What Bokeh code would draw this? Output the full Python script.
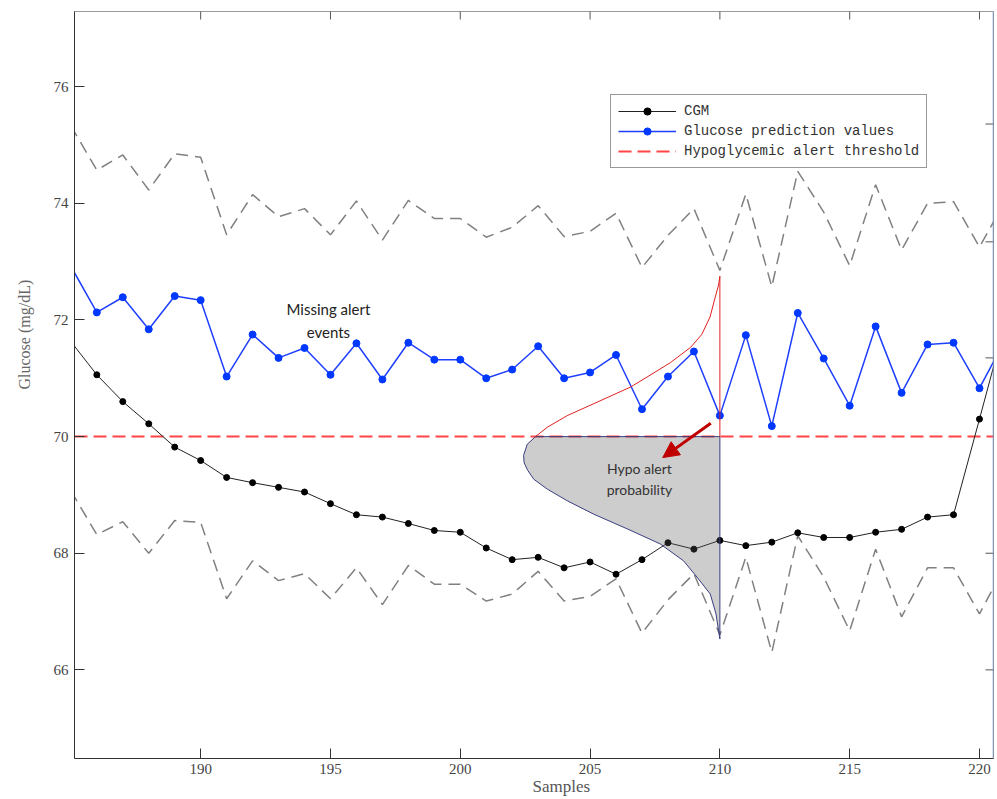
import math
from bokeh.plotting import figure
from bokeh.models import (FixedTicker, Range1d, Label, Arrow, NormalHead, Legend,
                          Title, Span)
from bokeh.embed import file_html
from bokeh.resources import INLINE

# ---------------- data ----------------
samples = list(range(185, 222))
cgm = [71.63, 71.06, 70.60, 70.22, 69.82, 69.59, 69.30, 69.21, 69.13, 69.05,
       68.85, 68.66, 68.62, 68.51, 68.39, 68.36, 68.09, 67.89, 67.93, 67.75,
       67.85, 67.64, 67.89, 68.18, 68.07, 68.22, 68.13, 68.19, 68.35, 68.27,
       68.27, 68.36, 68.41, 68.62, 68.66, 70.30, 71.96]
prediction = [72.92, 72.13, 72.39, 71.84, 72.41, 72.34, 71.03, 71.75, 71.35, 71.52,
              71.06, 71.60, 70.98, 71.61, 71.32, 71.32, 71.00, 71.15, 71.55, 71.00,
              71.10, 71.40, 70.47, 71.03, 71.46, 70.36, 71.74, 70.18, 72.12, 71.34,
              70.53, 71.89, 70.75, 71.58, 71.61, 70.83, 71.67]
upper_bound = [75.33, 74.57, 74.83, 74.23, 74.85, 74.79, 73.46, 74.15, 73.77, 73.91,
               73.46, 74.04, 73.37, 74.05, 73.74, 73.74, 73.42, 73.59, 73.96, 73.43,
               73.52, 73.83, 72.90, 73.45, 73.91, 72.85, 74.16, 72.57, 74.55, 73.85,
               72.93, 74.32, 73.20, 74.00, 74.03, 73.25, 74.05]
lower_bound = [69.07, 68.32, 68.54, 68.00, 68.56, 68.53, 67.22, 67.87, 67.53, 67.65,
               67.22, 67.75, 67.12, 67.79, 67.47, 67.47, 67.18, 67.30, 67.69, 67.18,
               67.26, 67.56, 66.63, 67.20, 67.65, 66.60, 67.93, 66.30, 68.30, 67.59,
               66.67, 68.07, 66.91, 67.75, 67.75, 66.96, 67.80]
threshold = 70.0

# prediction distribution drawn at sample 210
dist_upper_x = [202.90, 203.35, 204.12, 205.27, 206.56, 207.19, 208.10, 208.87,
                209.30, 209.62, 209.82, 209.95, 210.00]
dist_upper_y = [70.00, 70.16, 70.36, 70.59, 70.85, 71.02, 71.27, 71.53,
                71.75, 72.05, 72.39, 72.60, 72.75]
dist_lower_x = [202.90, 202.58, 202.44, 202.46, 202.60, 202.83, 203.35, 204.12,
                205.14, 206.42, 207.70, 208.60, 209.12, 209.63, 209.85, 210.00]
dist_lower_y = [70.00, 69.87, 69.68, 69.55, 69.42, 69.27, 69.10, 68.90,
                68.67, 68.42, 68.16, 67.87, 67.59, 67.30, 66.96, 66.53]

x_ticks = [190, 195, 200, 205, 210, 215, 220]
y_ticks = [66, 68, 70, 72, 74, 76]
right_ticks = [66, 68, 71.35, 73.34, 75.36]
x_limits = (185.14, 220.54)
y_limits = (64.48, 77.29)

# ---------------- figure ----------------
p = figure(width=997, height=799,
           x_range=Range1d(*x_limits), y_range=Range1d(*y_limits),
           output_backend="svg", toolbar_location=None,
           min_border_left=73, min_border_right=4, min_border_top=11,
           min_border_bottom=41)
p.grid.visible = False
p.outline_line_color = "#9a9a9a"
p.outline_line_width = 1
p.background_fill_color = "white"

serif = "Liberation Serif"

xa = p.below[0]
xa.ticker = FixedTicker(ticks=x_ticks)
ya = p.left[0]
ya.ticker = FixedTicker(ticks=y_ticks)
for ax in (xa, ya):
    ax.minor_tick_line_color = None
    ax.major_tick_in = 10
    ax.major_tick_out = 0
    ax.axis_line_color = "#333333"
    ax.major_tick_line_color = "#333333"
    ax.major_label_text_font = serif
    ax.major_label_text_font_size = "15px"
    ax.major_label_text_color = "#444444"
xa.major_label_standoff = 5
ya.major_label_standoff = 6

# axis titles placed like the reference (off-centre)
p.add_layout(Title(text="Glucose (mg/dL)", align="left", offset=369,
                   vertical_align="top", standoff=31,
                   text_font=serif, text_font_size="16px",
                   text_font_style="normal", text_color="#666666"), "left")
p.add_layout(Title(text="Samples", align="left", offset=458,
                   vertical_align="top", standoff=0,
                   text_font=serif, text_font_size="17px",
                   text_font_style="normal", text_color="#555555"), "below")

# right frame edge and inward ticks on the top and right edges
p.add_layout(Span(location=x_limits[1], dimension="height",
                  line_color="#7090c8", line_width=1.5))
p.scatter(x_ticks, [y_limits[1]] * len(x_ticks), marker="dash", size=16,
          angle=math.pi / 2, line_color="#555555", line_width=1)
p.scatter([x_limits[1]] * len(right_ticks), right_ticks, marker="dash", size=16,
          line_color="#555555", line_width=1)

# ---------------- series ----------------
p.line(samples, upper_bound, line_color="#808080", line_width=1.5, line_dash="12 7")
p.line(samples, lower_bound, line_color="#808080", line_width=1.5, line_dash="12 7")

thr_line = p.line([x_limits[0], x_limits[1]], [threshold, threshold],
                  line_color="#ff4545", line_width=2, line_dash="13 6")

cgm_line = p.line(samples, cgm, line_color="#222222", line_width=1)
cgm_dots = p.scatter(samples, cgm, size=6, fill_color="black", line_color="black")

pred_line = p.line(samples, prediction, line_color="#1f3fff", line_width=1.5)
pred_dots = p.scatter(samples, prediction, size=7, fill_color="#0038ff",
                      line_color="#0038ff")

# distribution at sample 210
p.patch(dist_lower_x + [dist_lower_x[-1]], dist_lower_y + [threshold],
        fill_color="#5a5a5a", fill_alpha=0.3, line_color="#3a3f80", line_width=1)
p.line(dist_upper_x, dist_upper_y, line_color="#e02020", line_width=1)
p.line([dist_upper_x[-1], dist_upper_x[-1]], [threshold, dist_upper_y[-1]],
       line_color="#e02020", line_width=1)

# ---------------- annotations ----------------
p.add_layout(Label(x=194.92, y=71.99, text="Missing alert\nevents",
                   text_align="center", text_baseline="middle",
                   text_font="Lato", text_font_size="15px", text_color="#222222",
                   text_line_height=1.3))
p.add_layout(Label(x=206.9, y=69.27, text="Hypo alert\nprobability",
                   text_align="center", text_baseline="middle",
                   text_font="Lato", text_font_size="14px", text_color="#333333",
                   text_line_height=1.25))
p.add_layout(Arrow(end=NormalHead(size=16, fill_color="#c00000", line_color="#c00000"),
                   x_start=209.65, y_start=70.23, x_end=207.8, y_end=69.64,
                   line_color="#c00000", line_width=3))

legend = Legend(items=[("CGM", [cgm_line, cgm_dots]),
                       ("Glucose prediction values", [pred_line, pred_dots]),
                       ("Hypoglycemic alert threshold", [thr_line])],
                location=(536, 590), orientation="vertical",
                glyph_width=58, glyph_height=18, label_height=18,
                label_standoff=8, spacing=2, padding=7, margin=0,
                label_text_font="Liberation Mono", label_text_font_size="14px",
                label_text_color="#333333",
                border_line_color="#333333", border_line_width=1.2,
                background_fill_color="white", background_fill_alpha=1.0)
p.add_layout(legend)

open("out.html", "w").write(file_html(p, INLINE))
